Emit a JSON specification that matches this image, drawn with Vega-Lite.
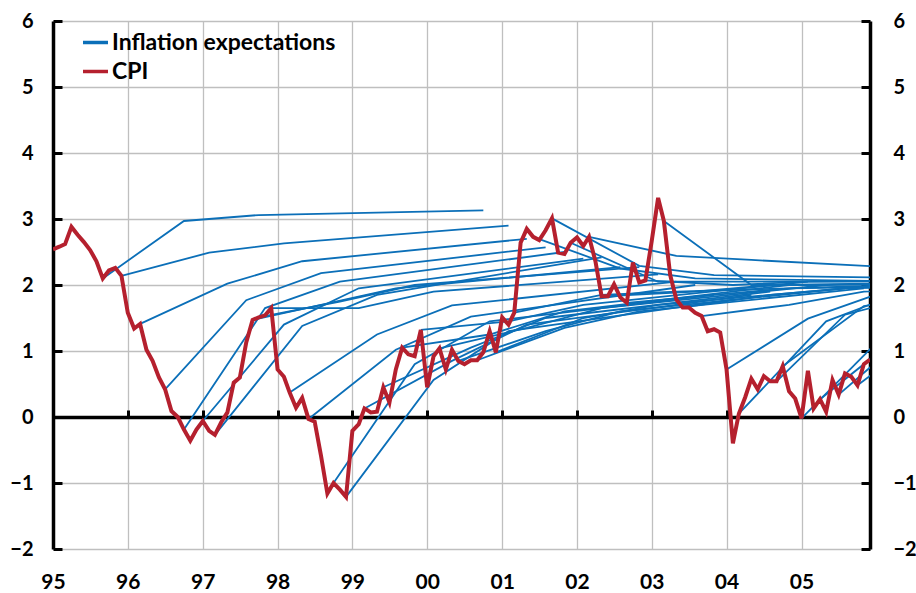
{
  "$schema": "https://vega.github.io/schema/vega-lite/v6.json",
  "width": 817,
  "height": 528,
  "autosize": {"type": "none"},
  "padding": {"left": 53, "top": 21, "right": 46, "bottom": 44},
  "config": {"view": {"stroke": null}, "font": "Lato"},
  "datasets": {
    "cpi": [
      {"date":"1995-01-01","v":2.54},{"date":"1995-02-01","v":2.58},{"date":"1995-03-01","v":2.62},{"date":"1995-04-01","v":2.88},{"date":"1995-05-01","v":2.76},{"date":"1995-06-01","v":2.65},{"date":"1995-07-01","v":2.53},{"date":"1995-08-01","v":2.36},{"date":"1995-09-01","v":2.10},{"date":"1995-10-01","v":2.22},{"date":"1995-11-01","v":2.26},{"date":"1995-12-01","v":2.14},
      {"date":"1996-01-01","v":1.58},{"date":"1996-02-01","v":1.34},{"date":"1996-03-01","v":1.41},{"date":"1996-04-01","v":1.02},{"date":"1996-05-01","v":0.85},{"date":"1996-06-01","v":0.60},{"date":"1996-07-01","v":0.42},{"date":"1996-08-01","v":0.09},{"date":"1996-09-01","v":0.00},{"date":"1996-10-01","v":-0.19},{"date":"1996-11-01","v":-0.36},{"date":"1996-12-01","v":-0.19},
      {"date":"1997-01-01","v":-0.06},{"date":"1997-02-01","v":-0.21},{"date":"1997-03-01","v":-0.27},{"date":"1997-04-01","v":-0.08},{"date":"1997-05-01","v":0.07},{"date":"1997-06-01","v":0.52},{"date":"1997-07-01","v":0.60},{"date":"1997-08-01","v":1.13},{"date":"1997-09-01","v":1.47},{"date":"1997-10-01","v":1.51},{"date":"1997-11-01","v":1.54},{"date":"1997-12-01","v":1.65},
      {"date":"1998-01-01","v":0.72},{"date":"1998-02-01","v":0.61},{"date":"1998-03-01","v":0.37},{"date":"1998-04-01","v":0.14},{"date":"1998-05-01","v":0.29},{"date":"1998-06-01","v":-0.03},{"date":"1998-07-01","v":-0.07},{"date":"1998-08-01","v":-0.59},{"date":"1998-09-01","v":-1.16},{"date":"1998-10-01","v":-1.00},{"date":"1998-11-01","v":-1.10},{"date":"1998-12-01","v":-1.21},
      {"date":"1999-01-01","v":-0.21},{"date":"1999-02-01","v":-0.11},{"date":"1999-03-01","v":0.13},{"date":"1999-04-01","v":0.07},{"date":"1999-05-01","v":0.08},{"date":"1999-06-01","v":0.45},{"date":"1999-07-01","v":0.22},{"date":"1999-08-01","v":0.72},{"date":"1999-09-01","v":1.05},{"date":"1999-10-01","v":0.95},{"date":"1999-11-01","v":0.92},{"date":"1999-12-01","v":1.32},
      {"date":"2000-01-01","v":0.45},{"date":"2000-02-01","v":0.92},{"date":"2000-03-01","v":1.04},{"date":"2000-04-01","v":0.72},{"date":"2000-05-01","v":1.02},{"date":"2000-06-01","v":0.85},{"date":"2000-07-01","v":0.80},{"date":"2000-08-01","v":0.86},{"date":"2000-09-01","v":0.86},{"date":"2000-10-01","v":0.98},{"date":"2000-11-01","v":1.30},{"date":"2000-12-01","v":0.98},
      {"date":"2001-01-01","v":1.51},{"date":"2001-02-01","v":1.40},{"date":"2001-03-01","v":1.58},{"date":"2001-04-01","v":2.64},{"date":"2001-05-01","v":2.85},{"date":"2001-06-01","v":2.73},{"date":"2001-07-01","v":2.68},{"date":"2001-08-01","v":2.83},{"date":"2001-09-01","v":3.01},{"date":"2001-10-01","v":2.49},{"date":"2001-11-01","v":2.47},{"date":"2001-12-01","v":2.64},
      {"date":"2002-01-01","v":2.72},{"date":"2002-02-01","v":2.59},{"date":"2002-03-01","v":2.73},{"date":"2002-04-01","v":2.36},{"date":"2002-05-01","v":1.83},{"date":"2002-06-01","v":1.83},{"date":"2002-07-01","v":2.01},{"date":"2002-08-01","v":1.81},{"date":"2002-09-01","v":1.73},{"date":"2002-10-01","v":2.34},{"date":"2002-11-01","v":2.04},{"date":"2002-12-01","v":2.07},
      {"date":"2003-01-01","v":2.67},{"date":"2003-02-01","v":3.32},{"date":"2003-03-01","v":2.97},{"date":"2003-04-01","v":2.15},{"date":"2003-05-01","v":1.78},{"date":"2003-06-01","v":1.66},{"date":"2003-07-01","v":1.66},{"date":"2003-08-01","v":1.58},{"date":"2003-09-01","v":1.53},{"date":"2003-10-01","v":1.30},{"date":"2003-11-01","v":1.33},{"date":"2003-12-01","v":1.28},
      {"date":"2004-01-01","v":0.72},{"date":"2004-02-01","v":-0.40},{"date":"2004-03-01","v":0.05},{"date":"2004-04-01","v":0.30},{"date":"2004-05-01","v":0.58},{"date":"2004-06-01","v":0.42},{"date":"2004-07-01","v":0.62},{"date":"2004-08-01","v":0.54},{"date":"2004-09-01","v":0.54},{"date":"2004-10-01","v":0.77},{"date":"2004-11-01","v":0.39},{"date":"2004-12-01","v":0.28},
      {"date":"2005-01-01","v":-0.02},{"date":"2005-02-01","v":0.70},{"date":"2005-03-01","v":0.13},{"date":"2005-04-01","v":0.27},{"date":"2005-05-01","v":0.08},{"date":"2005-06-01","v":0.56},{"date":"2005-07-01","v":0.34},{"date":"2005-08-01","v":0.66},{"date":"2005-09-01","v":0.61},{"date":"2005-10-01","v":0.48},{"date":"2005-11-01","v":0.80},{"date":"2005-12-01","v":0.87}
    ],
    "exp": [
      {"id":1,"date":"1995-09-01","v":2.10},{"id":1,"date":"1996-10-01","v":2.97},{"id":1,"date":"1997-10-01","v":3.06},{"id":1,"date":"2000-10-01","v":3.13},
      {"id":2,"date":"1995-12-01","v":2.14},{"id":2,"date":"1997-02-01","v":2.49},{"id":2,"date":"1998-02-01","v":2.63},{"id":2,"date":"2001-02-01","v":2.90},
      {"id":3,"date":"1996-03-01","v":1.41},{"id":3,"date":"1997-05-01","v":2.02},{"id":3,"date":"1998-05-01","v":2.36},{"id":3,"date":"2001-05-01","v":2.70},
      {"id":4,"date":"1996-07-01","v":0.42},{"id":4,"date":"1997-08-01","v":1.77},{"id":4,"date":"1998-08-01","v":2.18},{"id":4,"date":"2001-08-01","v":2.57},
      {"id":5,"date":"1996-10-01","v":-0.19},{"id":5,"date":"1997-11-01","v":1.65},{"id":5,"date":"1998-11-01","v":2.05},{"id":5,"date":"2001-11-01","v":2.50},
      {"id":6,"date":"1997-01-01","v":-0.06},{"id":6,"date":"1998-02-01","v":1.40},{"id":6,"date":"1999-02-01","v":1.95},{"id":6,"date":"2002-02-01","v":2.40},
      {"id":7,"date":"1997-03-01","v":-0.27},{"id":7,"date":"1998-05-01","v":1.38},{"id":7,"date":"1999-05-01","v":1.85},{"id":7,"date":"2002-05-01","v":2.42},
      {"id":8,"date":"1997-09-01","v":1.47},{"id":8,"date":"1998-08-01","v":1.70},{"id":8,"date":"1999-08-01","v":1.95},{"id":8,"date":"2002-08-01","v":2.27},
      {"id":9,"date":"1997-10-01","v":1.51},{"id":9,"date":"1998-11-01","v":1.75},{"id":9,"date":"1999-11-01","v":2.00},{"id":9,"date":"2002-11-01","v":2.27},
      {"id":10,"date":"1997-12-01","v":1.65},{"id":10,"date":"1999-02-01","v":1.65},{"id":10,"date":"2000-02-01","v":1.90},{"id":10,"date":"2003-02-01","v":2.16},
      {"id":11,"date":"1998-03-01","v":0.37},{"id":11,"date":"1999-05-01","v":1.25},{"id":11,"date":"2000-05-01","v":1.69},{"id":11,"date":"2003-05-01","v":2.05},
      {"id":12,"date":"1998-06-01","v":-0.03},{"id":12,"date":"1999-08-01","v":1.02},{"id":12,"date":"2000-08-01","v":1.52},{"id":12,"date":"2003-08-01","v":2.00},
      {"id":13,"date":"1998-10-01","v":-1.00},{"id":13,"date":"1999-11-01","v":0.80},{"id":13,"date":"2000-11-01","v":1.45},{"id":13,"date":"2003-11-01","v":1.85},
      {"id":14,"date":"1998-12-01","v":-1.21},{"id":14,"date":"2000-02-01","v":0.56},{"id":14,"date":"2001-02-01","v":1.30},{"id":14,"date":"2004-02-01","v":1.78},
      {"id":15,"date":"1999-03-01","v":0.13},{"id":15,"date":"2000-05-01","v":0.85},{"id":15,"date":"2001-05-01","v":1.40},{"id":15,"date":"2004-05-01","v":1.85},
      {"id":16,"date":"1999-06-01","v":0.45},{"id":16,"date":"2000-08-01","v":1.05},{"id":16,"date":"2001-08-01","v":1.50},{"id":16,"date":"2004-08-01","v":1.90},
      {"id":17,"date":"1999-09-01","v":1.05},{"id":17,"date":"2000-11-01","v":1.25},{"id":17,"date":"2001-11-01","v":1.60},{"id":17,"date":"2004-11-01","v":2.00},
      {"id":18,"date":"1999-12-01","v":1.32},{"id":18,"date":"2001-02-01","v":1.45},{"id":18,"date":"2002-02-01","v":1.70},{"id":18,"date":"2005-02-01","v":2.05},
      {"id":19,"date":"2000-03-01","v":1.04},{"id":19,"date":"2001-05-01","v":1.35},{"id":19,"date":"2002-05-01","v":1.65},{"id":19,"date":"2005-05-01","v":2.00},
      {"id":20,"date":"2000-06-01","v":0.85},{"id":20,"date":"2001-08-01","v":1.30},{"id":20,"date":"2002-08-01","v":1.60},{"id":20,"date":"2005-08-01","v":1.95},
      {"id":21,"date":"2000-09-01","v":0.86},{"id":21,"date":"2001-11-01","v":1.35},{"id":21,"date":"2002-11-01","v":1.60},{"id":21,"date":"2005-11-01","v":1.95},
      {"id":22,"date":"2000-12-01","v":0.98},{"id":22,"date":"2002-02-01","v":1.50},{"id":22,"date":"2003-02-01","v":1.70},{"id":22,"date":"2006-02-01","v":2.00},
      {"id":23,"date":"2001-03-01","v":1.58},{"id":23,"date":"2002-05-01","v":1.85},{"id":23,"date":"2003-05-01","v":1.90},{"id":23,"date":"2006-05-01","v":2.00},
      {"id":24,"date":"2001-06-01","v":2.73},{"id":24,"date":"2002-08-01","v":2.25},{"id":24,"date":"2003-08-01","v":2.10},{"id":24,"date":"2006-08-01","v":2.05},
      {"id":25,"date":"2001-09-01","v":3.01},{"id":25,"date":"2002-11-01","v":2.29},{"id":25,"date":"2003-11-01","v":2.15},{"id":25,"date":"2006-11-01","v":2.10},
      {"id":26,"date":"2001-12-01","v":2.64},{"id":26,"date":"2003-02-01","v":2.05},{"id":26,"date":"2004-02-01","v":2.05},{"id":26,"date":"2007-02-01","v":2.05},
      {"id":27,"date":"2002-03-01","v":2.73},{"id":27,"date":"2003-05-01","v":2.44},{"id":27,"date":"2004-05-01","v":2.38},{"id":27,"date":"2007-05-01","v":2.20},
      {"id":28,"date":"2002-06-01","v":1.83},{"id":28,"date":"2003-08-01","v":1.90},{"id":28,"date":"2004-08-01","v":2.00},{"id":28,"date":"2007-08-01","v":2.05},
      {"id":29,"date":"2002-09-01","v":1.73},{"id":29,"date":"2003-11-01","v":1.85},{"id":29,"date":"2004-11-01","v":1.95},{"id":29,"date":"2007-11-01","v":2.00},
      {"id":30,"date":"2002-12-01","v":2.07},{"id":30,"date":"2004-02-01","v":2.00},{"id":30,"date":"2005-02-01","v":2.05},{"id":30,"date":"2008-02-01","v":2.10},
      {"id":31,"date":"2003-03-01","v":2.97},{"id":31,"date":"2004-05-01","v":2.00},{"id":31,"date":"2005-05-01","v":2.00},{"id":31,"date":"2008-05-01","v":2.05},
      {"id":32,"date":"2003-06-01","v":1.66},{"id":32,"date":"2004-08-01","v":1.85},{"id":32,"date":"2005-08-01","v":1.95},{"id":32,"date":"2008-08-01","v":2.00},
      {"id":33,"date":"2003-09-01","v":1.53},{"id":33,"date":"2004-11-01","v":1.70},{"id":33,"date":"2005-11-01","v":1.90},{"id":33,"date":"2008-11-01","v":2.00},
      {"id":34,"date":"2004-01-01","v":0.72},{"id":34,"date":"2005-02-01","v":1.49},{"id":34,"date":"2006-02-01","v":1.89},
      {"id":35,"date":"2004-03-01","v":0.05},{"id":35,"date":"2005-05-01","v":1.45},{"id":35,"date":"2006-05-01","v":1.88},
      {"id":36,"date":"2004-09-01","v":0.54},{"id":36,"date":"2005-08-01","v":1.55},{"id":36,"date":"2006-08-01","v":1.85},
      {"id":37,"date":"2004-10-01","v":0.77},{"id":37,"date":"2005-11-01","v":1.68},{"id":37,"date":"2006-11-01","v":1.85},
      {"id":38,"date":"2005-01-01","v":-0.02},{"id":38,"date":"2006-02-01","v":1.22},
      {"id":39,"date":"2005-04-01","v":0.27},{"id":39,"date":"2006-05-01","v":1.25},
      {"id":40,"date":"2005-07-01","v":0.34},{"id":40,"date":"2006-08-01","v":1.40},
      {"id":41,"date":"2005-10-01","v":0.48},{"id":41,"date":"2006-11-01","v":1.40}
    ]
  },
  "layer": [
    {
      "data": {"name": "exp"},
      "mark": {"type": "line", "strokeWidth": 1.8, "clip": true},
      "encoding": {
        "x": {
          "field": "date", "type": "temporal",
          "scale": {"type": "utc", "domain": [{"year": 1995, "month": 1, "date": 1, "utc": true}, {"year": 2005, "month": 12, "date": 1, "utc": true}]},
          "axis": {"orient": "bottom", "title": null, "format": "%y", "tickCount": "year", "domain": false, "ticks": false, "labelFlush": false, "labelPadding": 22, "labelFontSize": 21, "labelFontWeight": "bold", "labelColor": "black", "grid": true, "gridColor": "#BFBFBF", "gridWidth": 1.3}
        },
        "y": {
          "field": "v", "type": "quantitative",
          "scale": {"domain": [-2, 6], "nice": false},
          "axis": {"orient": "left", "title": null, "values": [-2, -1, 0, 1, 2, 3, 4, 5, 6], "domain": true, "domainColor": "black", "domainWidth": 3.5, "ticks": true, "tickColor": "black", "tickWidth": 3, "tickSize": -9, "labelPadding": 29, "labelFontSize": 20, "labelFontWeight": "bold", "labelColor": "black", "grid": true, "gridColor": "#BFBFBF", "gridWidth": 1.3}
        },
        "detail": {"field": "id", "type": "nominal"},
        "color": {
          "datum": "Inflation expectations", "type": "nominal",
          "scale": {"domain": ["Inflation expectations", "CPI"], "range": ["#0B6FB8", "#B5202E"]},
          "legend": {"orient": "none", "legendX": 28, "legendY": 7, "title": null, "labelFontSize": 23, "labelFontWeight": "bold", "labelColor": "black", "labelLimit": 0, "symbolType": "stroke", "symbolSize": 625, "symbolStrokeWidth": 3.5, "labelOffset": 2, "rowPadding": 2, "padding": 0, "symbolOffset": 0}
        }
      }
    },
    {
      "mark": {"type": "rule", "color": "black", "strokeWidth": 3.5, "strokeDash": [27, 14]},
      "encoding": {"y": {"datum": 2, "type": "quantitative", "axis": null}}
    },
    {
      "data": {"name": "cpi"},
      "mark": {"type": "line", "strokeWidth": 4, "clip": true},
      "encoding": {
        "x": {
          "field": "date", "type": "temporal",
          "axis": {"orient": "top", "offset": -396, "title": null, "labels": false, "grid": false, "tickCount": "year", "domain": true, "domainColor": "black", "domainWidth": 3.5, "ticks": true, "tickColor": "black", "tickWidth": 3, "tickSize": 7}
        },
        "y": {
          "field": "v", "type": "quantitative",
          "axis": {"orient": "right", "title": null, "values": [-2, -1, 0, 1, 2, 3, 4, 5, 6], "domain": true, "domainColor": "black", "domainWidth": 3.5, "ticks": true, "tickColor": "black", "tickWidth": 3, "tickSize": -9, "labelPadding": 32, "labelFontSize": 20, "labelFontWeight": "bold", "labelColor": "black", "grid": false}
        },
        "color": {"datum": "CPI", "type": "nominal"}
      }
    }
  ]
}
